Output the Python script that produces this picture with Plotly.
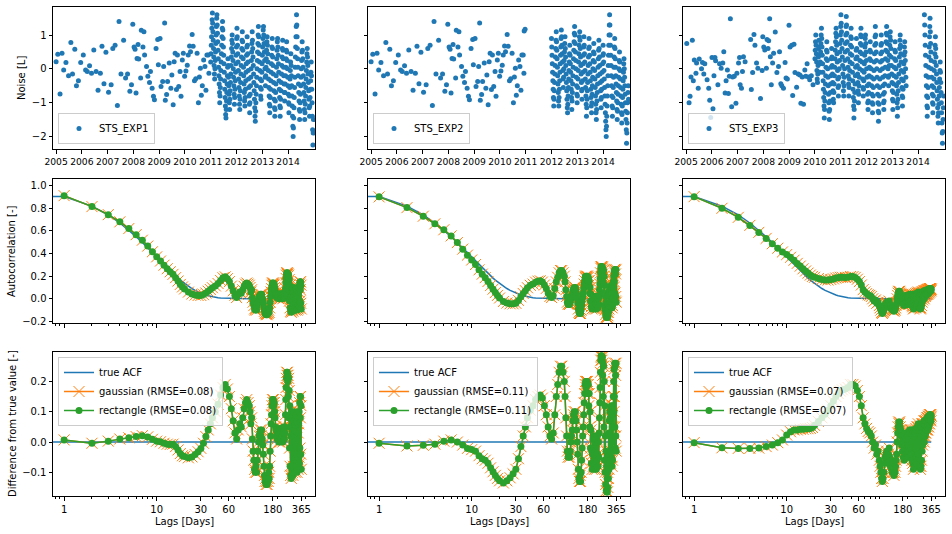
import pandas as pd
import plotly.graph_objects as go

# ------------------------------------------------------------------ data
# Top row: noise series.  Sparse observations (decimal year, value)
sparse_exp12 = [
    (2005.000, 0.21), (2005.064, 0.43), (2005.153, -0.74), (2005.229, 0.46), (2005.293, -0.03),
    (2005.382, 0.19), (2005.483, -0.20), (2005.573, 0.78), (2005.636, -0.15), (2005.725, 0.58),
    (2005.789, -0.50), (2005.865, -0.35), (2005.954, 0.19), (2006.056, 0.41), (2006.145, -0.03),
    (2006.209, -0.08), (2006.298, 0.09), (2006.374, -0.13), (2006.463, 0.56), (2006.552, -0.08),
    (2006.628, -0.63), (2006.718, -0.13), (2006.781, 0.67), (2006.858, -0.44), (2006.934, 0.49),
    (2007.036, -0.69), (2007.137, -0.47), (2007.201, 0.60), (2007.290, 0.70), (2007.379, -1.08),
    (2007.443, 1.40), (2007.519, -0.15), (2007.621, 0.85), (2007.697, -0.27), (2007.774, -0.15),
    (2007.863, -0.66), (2007.926, -0.47), (2007.977, 1.32), (2008.028, 0.65), (2008.066, 0.58),
    (2008.104, -0.71), (2008.142, 0.31), (2008.181, 0.72), (2008.206, 0.29), (2008.282, -0.27),
    (2008.308, 1.14), (2008.372, 0.65), (2008.410, 1.10), (2008.435, 0.41), (2008.511, 0.07),
    (2008.562, -0.22), (2008.626, -0.40), (2008.664, -0.08), (2008.728, -0.57), (2008.779, -0.81),
    (2008.817, -0.91), (2008.880, 0.60), (2008.944, 0.87), (2008.969, 0.12), (2009.033, 0.90),
    (2009.071, -0.52), (2009.135, -0.37), (2009.173, 0.07), (2009.211, 1.36), (2009.237, -0.93),
    (2009.288, -0.76), (2009.326, -0.37), (2009.389, 0.17), (2009.453, -0.57), (2009.491, -0.18),
    (2009.542, -1.06), (2009.580, 0.21), (2009.618, 0.46), (2009.669, -0.61), (2009.707, 0.41),
    (2009.758, -0.52), (2009.809, -0.08), (2009.847, -0.81), (2009.898, 0.26), (2009.936, 0.46),
    (2009.987, -0.22), (2010.038, -0.06), (2010.089, 0.11), (2010.127, 0.41), (2010.178, 0.68),
    (2010.216, 0.51), (2010.280, 1.02), (2010.318, 0.67), (2010.369, -0.35), (2010.420, -0.29),
    (2010.471, 0.46), (2010.522, -1.00), (2010.560, -0.24), (2010.598, 0.02), (2010.636, -0.78),
    (2010.674, -0.50), (2010.725, 0.26), (2010.776, 0.07), (2010.814, -0.63), (2010.852, 0.41),
    (2010.903, 0.41), (2010.929, -0.13),
]
extra_exp2 = [(2010.940, 1.12), (2010.975, 1.17)]

sparse_exp3 = [
    (2005.025, 0.75), (2005.115, -1.00), (2005.153, -0.81), (2005.191, -0.24), (2005.242, 0.85),
    (2005.280, -0.35), (2005.318, 0.26), (2005.382, -0.13), (2005.407, 0.17), (2005.471, -0.57),
    (2005.509, 0.29), (2005.598, 0.00), (2005.636, 0.19), (2005.687, -0.15), (2005.725, 0.15),
    (2005.814, -0.32), (2005.878, -0.57), (2005.916, -0.93), (2005.954, -1.44), (2006.005, 0.34),
    (2006.043, -1.18), (2006.081, -0.20), (2006.120, 0.34), (2006.145, 0.24), (2006.234, -0.47),
    (2006.298, 0.15), (2006.361, 0.02), (2006.425, 0.17), (2006.463, 0.51), (2006.514, -0.71),
    (2006.552, -0.35), (2006.603, -0.03), (2006.641, -0.73), (2006.679, -0.22), (2006.718, 1.48),
    (2006.768, -1.12), (2006.807, -0.24), (2006.870, -0.22), (2006.934, -1.02), (2006.972, -0.13),
    (2007.036, 0.17), (2007.074, 0.34), (2007.099, -0.47), (2007.150, -0.57), (2007.188, -0.08),
    (2007.226, 0.36), (2007.290, 0.21), (2007.506, 0.87), (2007.532, -0.61), (2007.583, -0.11),
    (2007.634, 1.02), (2007.672, 0.70), (2007.735, 0.17), (2007.786, 0.02), (2007.888, -0.88),
    (2007.952, -0.05), (2007.977, 0.95), (2008.015, 0.65), (2008.053, 0.56), (2008.117, 0.02),
    (2008.142, 0.87), (2008.181, 0.60), (2008.206, 0.83), (2008.244, 1.48), (2008.270, 0.36),
    (2008.308, -0.47), (2008.359, 0.17), (2008.397, 0.46), (2008.461, 1.09), (2008.524, -0.11),
    (2008.588, 0.07), (2008.626, 0.51), (2008.677, -0.44), (2008.715, -0.50), (2008.779, -0.57),
    (2008.842, 0.19), (2008.880, -0.27), (2008.931, -0.30), (2008.995, 1.29), (2009.033, 0.65),
    (2009.097, 0.70), (2009.135, -0.79), (2009.186, 0.73), (2009.224, -0.11), (2009.288, -0.54),
    (2009.351, -0.15), (2009.415, -0.18), (2009.453, -1.02), (2009.504, -0.24), (2009.555, -1.05),
    (2009.606, -0.03), (2009.644, -0.22), (2009.695, 0.15), (2009.746, -0.24), (2009.796, -0.32),
    (2009.860, -0.20), (2009.924, -0.47),
]

# Dense parts (one value every 4 days)
DENSE_STEP = "4D"
dense_exp1_start = "2011-01-01"
dense_exp1 = [
    0.2, 0.45, 0.7, 0.95, 1.2, 1.45, 1.65, 1.35, 1.1, 0.85, 0.6, 0.35, 0.1, -0.15, -0.3, 0.0, 0.25, 0.5, 0.75, 1.0, 1.25, 1.5,
    1.6, 1.3, 1.05, 0.8, 0.55, 0.3, 0.05, -0.2, -0.45, -0.7, -1.0, -0.8, -0.55, -0.3, -0.05, 0.2, 0.45, 0.7, 0.95, 1.2, 1.4, 1.15,
    0.9, 0.65, 0.4, 0.15, -0.1, -0.35, -0.6, -0.85, -1.1, -1.35, -1.45, -1.2, -0.95, -0.7, -0.45, -0.2, 0.05, 0.3, 0.1, -0.25, -0.5, -0.75,
    -1.0, -1.2, -0.9, -0.65, -0.4, -0.15, 0.1, 0.35, 0.6, 0.85, 1.0, 0.75, 0.5, 0.25, 0.0, -0.25, -0.5, -0.75, -1.05, -0.85, -0.6, -0.35,
    -0.1, 0.15, 0.4, 0.65, 0.9, 1.2, 0.95, 0.7, 0.45, 0.2, -0.05, -0.3, -0.55, -0.8, -1.05, -1.2, -0.9, -0.65, -0.4, -0.15, 0.1, 0.35,
    0.6, 0.85, 1.1, 0.8, 0.55, 0.3, 0.05, -0.2, -0.45, -0.7, -0.95, -1.1, -0.85, -0.6, -0.35, -0.1, 0.15, 0.4, 0.65, 0.95, 0.7, 0.45,
    0.2, -0.05, -0.3, -0.55, -0.8, -1.05, -1.3, -1.0, -0.75, -0.5, -0.25, 0.0, 0.25, 0.5, 0.75, 1.1, 0.85, 0.6, 0.35, 0.1, -0.15, -0.4,
    -0.65, -0.9, -1.15, -1.4, -1.55, -1.25, -1.0, -0.75, -0.5, -0.25, 0.0, 0.25, 0.5, 0.75, 1.0, 1.25, 0.95, 0.7, 0.45, 0.2, -0.05, -0.3,
    -0.55, -0.8, -0.9, -0.6, -0.35, -0.1, 0.15, 0.4, 0.65, 0.9, 1.15, 1.25, 1.0, 0.75, 0.5, 0.25, 0.0, -0.25, -0.5, -0.2, 0.05, 0.3,
    0.55, 0.8, 0.95, 0.7, 0.45, 0.2, -0.05, -0.3, -0.55, -0.8, -1.05, -1.3, -1.1, -0.85, -0.6, -0.35, -0.1, 0.15, 0.4, 0.65, 0.9, 0.6,
    0.35, 0.1, -0.15, -0.4, -0.65, -0.9, -1.15, -1.4, -1.2, -0.95, -0.7, -0.45, -0.2, 0.05, 0.3, 0.55, 0.8, 0.9, 0.65, 0.4, 0.15, -0.1,
    -0.35, -0.6, -0.85, -1.1, -1.4, -1.15, -0.9, -0.65, -0.4, -0.15, 0.1, 0.35, 0.6, 0.85, 0.55, 0.3, 0.05, -0.2, -0.45, -0.7, -0.95, -0.7,
    -0.45, -0.2, 0.05, 0.3, 0.55, 0.8, 0.5, 0.25, 0.0, -0.25, -0.5, -0.75, -1.0, -1.3, -1.05, -0.8, -0.55, -0.3, -0.05, 0.2, 0.45, 0.1,
    -0.2, -0.5, -0.8, -1.1, -1.4, -1.7, -2.0, -1.75, -1.45, -1.15, -0.85, -0.55, -0.25, 0.05, 0.35, 0.65, 0.95, 1.25, 1.6, 1.3, 0.95, 0.6,
    0.3, 0.05, -0.2, -0.45, -0.7, -0.95, -1.2, -1.5, -1.25, -1.0, -0.75, -0.5, -0.25, 0.0, 0.25, 0.5, 0.8, 0.55, 0.3, 0.05, -0.2, -0.45,
    -0.7, -0.95, -1.2, -1.5, -1.3, -1.05, -0.8, -0.55, -0.3, -0.05, 0.2, 0.45, 0.6, 0.35, 0.1, -0.15, -0.4, -0.65, -0.9, -1.15, -1.4, -1.1,
    -0.85, -0.6, -0.35, -0.1, 0.2, -0.2, -0.6, -1.0, -1.4, -1.8, -2.25, -1.9, -1.5,
]
dense_exp2_start = "2012-01-01"
dense_exp2 = [
    0.9, 0.65, 0.4, 0.15, -0.1, -0.35, -0.6, -0.85, -1.1, -0.9, -0.65, -0.4, -0.15, 0.1, 0.35, 0.6, 0.85, 1.1, 0.8, 0.55, 0.3, 0.05,
    -0.2, -0.45, -0.7, -0.95, -1.1, -0.85, -0.6, -0.35, -0.1, 0.15, 0.4, 0.65, 0.9, 1.15, 0.95, 0.7, 0.45, 0.2, -0.05, -0.3, -0.55, -0.25,
    0.0, 0.25, 0.5, 0.75, 0.95, 0.6, 0.35, 0.1, -0.15, -0.4, -0.65, -0.9, -1.15, -1.3, -1.05, -0.8, -0.55, -0.3, -0.05, 0.2, 0.45, 0.7,
    0.4, 0.15, -0.1, -0.35, -0.6, -0.85, -1.2, -0.95, -0.7, -0.45, -0.2, 0.05, 0.3, 0.55, 0.8, 1.05, 1.25, 1.0, 0.75, 0.5, 0.25, 0.0,
    -0.25, -0.5, -0.75, -1.0, -0.8, -0.55, -0.3, -0.05, 0.2, 0.45, 0.7, 0.95, 1.1, 0.85, 0.6, 0.35, 0.1, -0.15, -0.4, -0.65, -0.9, -0.6,
    -0.35, -0.1, 0.15, 0.4, 0.65, 0.95, 0.7, 0.45, 0.2, -0.05, -0.3, -0.55, -0.8, -1.05, -1.4, -1.15, -0.9, -0.65, -0.4, -0.15, 0.1, 0.35,
    0.6, 0.9, 0.65, 0.4, 0.15, -0.1, -0.35, -0.6, -0.85, -1.1, -1.3, -1.0, -0.75, -0.5, -0.25, 0.0, 0.25, 0.5, 0.75, 0.45, 0.2, -0.05,
    -0.3, -0.55, -0.8, -1.05, -1.3, -1.5, -1.2, -0.95, -0.7, -0.45, -0.2, 0.05, 0.3, 0.55, 0.85, 0.6, 0.35, 0.1, -0.15, -0.4, -0.65, -0.9,
    -1.15, -0.85, -0.6, -0.35, -0.1, 0.15, 0.4, 0.7, 0.45, 0.2, -0.05, -0.3, -0.55, -0.8, -1.05, -1.3, -1.55, -1.8, -2.0, -1.7, -1.4, -1.1,
    -0.8, -0.5, -0.2, 0.1, 0.4, 0.7, 1.0, 1.3, 1.6, 1.3, 1.0, 0.7, 0.4, 0.1, -0.2, -0.5, -0.8, -1.1, -1.4, -1.15, -0.85, -0.55,
    -0.25, 0.05, 0.35, 0.65, 0.9, 0.6, 0.3, 0.05, -0.2, -0.45, -0.7, -0.95, -1.2, -1.5, -1.25, -1.0, -0.75, -0.5, -0.25, 0.0, 0.25, 0.5,
    0.2, -0.05, -0.3, -0.55, -0.8, -1.05, -1.3, -1.6, -1.35, -1.1, -0.85, -0.6, -0.35, -0.1, 0.15, 0.3, 0.0, -0.25, -0.5, -0.75, -1.0, -1.25,
    -1.5, -1.8, -2.2, -1.9, -1.6, -1.3, -1.0, -0.7, -0.5, -0.9,
]
dense_exp3a_start = "2010-01-01"
dense_exp3a = [
    0.3, 0.55, 0.8, 1.0, 0.7, 0.45, 0.2, -0.05, -0.3, -0.4, -0.15, 0.1, 0.35, 0.6, 0.85, 0.65, 0.4, 0.15, -0.1, 0.2, 0.5, 0.75,
    1.0, 1.2, 0.9, 0.65, 0.4, 0.15, -0.1, -0.35, -0.6, -0.85, -1.1, -1.45, -1.2, -0.95, -0.7, -0.45, -0.2, 0.05, 0.3, 0.55, 0.8, 0.5,
    0.25, 0.0, -0.25, -0.5, -0.75, -1.0, -1.25, -1.5, -1.2, -0.95, -0.7, -0.45, -0.2, 0.05, 0.3, 0.6, 0.35, 0.1, -0.15, -0.4, -0.65, -0.9,
    -1.0, -0.7, -0.45, -0.2, 0.05, 0.3, 0.55, 0.8, 1.05, 1.2, 0.95, 0.7, 0.45, 0.2, -0.05, -0.3, -0.55, -0.8, -0.5, -0.25, 0.0, 0.25,
    0.5, 0.75, 1.0, 1.25, 1.6, 1.35, 1.1, 0.85, 0.6, 0.35, 0.1, -0.15, -0.4, -0.65, -0.8, -0.5, -0.25, 0.0, 0.25, 0.5, 0.75, 1.0,
    1.25, 1.55, 1.3, 1.05, 0.8, 0.55, 0.3, 0.05, -0.2, -0.45, -0.8, -0.55, -0.3, -0.05, 0.2, 0.45, 0.7, 0.95, 1.2, 0.9, 0.65, 0.4,
    0.15, -0.1, -0.35, -0.6, -0.85, -1.1, -1.45, -1.2, -0.95, -0.7, -0.45, -0.2, 0.05, 0.3, 0.55, 0.9, 0.6, 0.35, 0.1, -0.15, -0.4, -0.65,
    -1.0, -0.75, -0.5, -0.25, 0.0, 0.25, 0.5, 0.75, 1.0, 1.2, 0.95, 0.7, 0.45, 0.2, -0.05, -0.3, -0.55, -0.8, -0.6, -0.35, -0.1, 0.15,
    0.4, 0.65, 0.9, 1.0, 0.75, 0.5, 0.25, 0.0, -0.25, -0.5, -0.75, -1.0, -1.2, -0.95, -0.7, -0.45, -0.2, 0.05, 0.3, 0.55, 0.8, 0.5,
    0.25, 0.0, -0.25, -0.5, -0.75, -1.0, -1.3, -1.05, -0.8, -0.55, -0.3, -0.05, 0.2, 0.45, 0.7, 0.95, 1.25, 1.0, 0.75, 0.5, 0.25, 0.0,
    -0.25, -0.5, -0.75, -1.0, -1.25, -1.55, -1.3, -1.05, -0.8, -0.55, -0.3, -0.05, 0.2, 0.45, 0.7, 1.0, 0.75, 0.5, 0.25, 0.0, -0.25, -0.5,
    -0.75, -1.0, -1.2, -0.95, -0.7, -0.45, -0.2, 0.05, 0.3, 0.55, 0.8, 1.05, 1.25, 1.0, 0.75, 0.5, 0.25, 0.0, -0.25, -0.5, -0.2, 0.1,
    0.4, 0.7, 0.95, 1.1, 0.85, 0.6, 0.35, 0.1, -0.15, -0.4, -0.65, -0.9, -1.2, -0.95, -0.7, -0.45, -0.2, 0.05, 0.3, 0.55, 0.8, 0.5,
    0.25, 0.0, -0.25, -0.5, -0.75, -1.0, -1.4, -1.15, -0.9, -0.65, -0.4, -0.15, 0.1, 0.35, 0.6, 0.85, 1.0, 0.7, 0.45, 0.2, -0.05, -0.3,
    -0.55, -0.8, -1.1, -0.85, -0.6, -0.35, -0.1, 0.15, 0.4, 0.65, 0.8, 0.5, 0.25, 0.0, -0.25, -0.5,
]
dense_exp3b_start = "2014-04-01"
dense_exp3b = [
    1.6, 1.3, 1.0, 0.7, 0.4, 0.1, -0.2, -0.5, -0.8, -1.1, -1.4, -1.15, -0.85, -0.55, -0.25, 0.05, 0.35, 0.65, 0.95, 1.25, 1.5, 1.1,
    0.75, 0.5, 0.25, 0.0, -0.25, -0.5, -0.75, -1.0, -1.3, -1.05, -0.8, -0.55, -0.3, -0.05, 0.2, 0.45, 0.7, 0.95, 0.6, 0.35, 0.1, -0.15,
    -0.4, -0.65, -0.9, -1.15, -1.4, -1.6, -1.3, -1.05, -0.8, -0.55, -0.3, -0.05, 0.2, -0.1, -0.4, -0.7, -1.0, -1.3, -1.6, -1.9, -2.2, -1.85,
    -1.5, -1.15, -0.8,
]
series_names = ["STS_EXP1", "STS_EXP2", "STS_EXP3"]

# Middle / bottom rows: lags, true ACF and (estimated - true) differences
lags = ([1, 2, 3, 4, 5, 6, 7, 8, 9, 10, 11, 12, 13, 14, 15, 16, 17, 18, 19, 20,
         22, 24, 26, 28, 30, 32, 34, 36, 38, 40,
         43, 46, 49, 52, 55, 58, 61, 64, 67, 70, 73, 76, 79, 82, 85, 88, 91, 94, 97]
        + list(range(100, 366, 2)))
true_acf_lag0 = 1.0
true_acf = [
    0.905, 0.819, 0.741, 0.670, 0.607, 0.549, 0.497, 0.449, 0.407, 0.368,
    0.333, 0.301, 0.273, 0.247, 0.223, 0.202, 0.183, 0.165, 0.150, 0.135,
    0.111, 0.091, 0.074, 0.061, 0.050, 0.041, 0.033, 0.027, 0.022, 0.018,
    0.014, 0.010, 0.007, 0.006, 0.004, 0.003, 0.002, 0.002, 0.001, 0.001,
    0.001, 0.0, 0.0, 0.0, 0.0, 0.0, 0.0, 0.0, 0.0,
    0.0, 0.0, 0.0, 0.0, 0.0, 0.0, 0.0, 0.0, 0.0, 0.0, 0.0, 0.0, 0.0, 0.0, 0.0, 0.0, 0.0, 0.0, 0.0, 0.0,
    0.0, 0.0, 0.0, 0.0, 0.0, 0.0, 0.0, 0.0, 0.0, 0.0, 0.0, 0.0, 0.0, 0.0, 0.0, 0.0, 0.0, 0.0, 0.0, 0.0,
    0.0, 0.0, 0.0, 0.0, 0.0, 0.0, 0.0, 0.0, 0.0, 0.0, 0.0, 0.0, 0.0, 0.0, 0.0, 0.0, 0.0, 0.0, 0.0, 0.0,
    0.0, 0.0, 0.0, 0.0, 0.0, 0.0, 0.0, 0.0, 0.0, 0.0, 0.0, 0.0, 0.0, 0.0, 0.0, 0.0, 0.0, 0.0, 0.0, 0.0,
    0.0, 0.0, 0.0, 0.0, 0.0, 0.0, 0.0, 0.0, 0.0, 0.0, 0.0, 0.0, 0.0, 0.0, 0.0, 0.0, 0.0, 0.0, 0.0, 0.0,
    0.0, 0.0, 0.0, 0.0, 0.0, 0.0, 0.0, 0.0, 0.0, 0.0, 0.0, 0.0, 0.0, 0.0, 0.0, 0.0, 0.0, 0.0, 0.0, 0.0,
    0.0, 0.0, 0.0, 0.0, 0.0, 0.0, 0.0, 0.0, 0.0, 0.0, 0.0, 0.0, 0.0,
]
diff_exp1 = [
    0.007, -0.004, 0.003, 0.010, 0.014, 0.018, 0.021, 0.017, 0.009, 0.003,
    0.001, -0.004, -0.007, -0.008, -0.007, -0.015, -0.026, -0.038, -0.045, -0.048,
    -0.052, -0.049, -0.041, -0.032, -0.021, -0.004, 0.018, 0.040, 0.060, 0.080,
    0.100, 0.125, 0.155, 0.180, 0.190, 0.175, 0.150, 0.110, 0.070, 0.030,
    0.010, 0.040, 0.060, 0.050, 0.080, 0.110, 0.130, 0.140, 0.130,
    0.12, 0.10, 0.06, 0.08, 0.01, -0.03, -0.06, -0.09, -0.10, -0.08,
    -0.10, -0.06, -0.03, 0.00, 0.02, 0.03, 0.04, 0.02, 0.04, 0.01,
    -0.01, -0.04, -0.08, -0.11, -0.13, -0.12, -0.14, -0.13, -0.14, -0.12,
    -0.13, -0.10, -0.12, -0.08, -0.03, 0.02, 0.06, 0.09, 0.12, 0.14,
    0.13, 0.14, 0.12, 0.13, 0.10, 0.08, 0.05, 0.04, 0.02, 0.04,
    0.01, 0.03, 0.04, 0.02, 0.00, 0.03, 0.045, 0.02, 0.00, 0.03,
    0.04, 0.01, 0.03, 0.045, 0.02, 0.00, 0.03, 0.05, 0.02, 0.04,
    0.01, 0.03, 0.05, 0.09, 0.14, 0.18, 0.21, 0.23, 0.22, 0.23,
    0.20, 0.22, 0.15, 0.21, 0.08, 0.17, -0.02, 0.12, -0.08, 0.05,
    -0.11, 0.02, -0.12, 0.10, -0.09, 0.08, -0.10, 0.06, -0.11, 0.09,
    -0.08, 0.10, -0.05, 0.07, -0.09, 0.04, -0.10, 0.06, -0.07, 0.08,
    -0.04, 0.09, -0.08, 0.05, -0.10, 0.07, -0.06, 0.10, -0.09, 0.03,
    -0.08, 0.06, -0.05, 0.10, -0.07, 0.13, -0.02, 0.15, 0.08, 0.15,
    -0.04, 0.12, -0.09,
]
diff_exp2 = [
    -0.004, -0.013, -0.011, -0.007, 0.003, 0.007, 0.000, -0.010, -0.021, -0.025,
    -0.030, -0.045, -0.055, -0.060, -0.070, -0.085, -0.098, -0.110, -0.120, -0.128,
    -0.135, -0.128, -0.118, -0.105, -0.090, -0.055, -0.015, 0.020, 0.050, 0.080,
    0.105, 0.120, 0.140, 0.150, 0.155, 0.145, 0.120, 0.090, 0.050, 0.020,
    0.010, 0.030, 0.090, 0.150, 0.190, 0.230, 0.250, 0.250, 0.230,
    0.20, 0.15, 0.08, 0.02, -0.03, -0.05, -0.04, -0.05, -0.03, 0.00,
    0.02, 0.04, 0.07, 0.09, 0.10, 0.08, 0.10, 0.07, 0.04, 0.00,
    -0.04, -0.09, -0.12, -0.13, -0.11, -0.13, -0.10, -0.06, -0.02, 0.02,
    0.05, 0.09, 0.13, 0.16, 0.19, 0.20, 0.18, 0.20, 0.19, 0.20,
    0.16, 0.19, 0.12, 0.16, 0.05, 0.10, -0.02, 0.04, -0.07, -0.03,
    -0.09, -0.04, 0.01, -0.08, 0.02, -0.06, -0.09, 0.00, -0.07, 0.02,
    -0.05, -0.09, 0.01, -0.06, 0.02, -0.04, -0.08, 0.00, -0.05, 0.03,
    0.08, 0.13, 0.18, 0.23, 0.27, 0.285, 0.28, 0.285, 0.27, 0.28,
    0.22, 0.26, 0.15, 0.25, 0.05, 0.20, -0.06, 0.12, -0.10, 0.02,
    -0.14, -0.03, -0.16, -0.08, -0.165, -0.12, -0.165, -0.10, -0.15, -0.05,
    -0.12, 0.03, -0.09, 0.07, -0.06, 0.10, -0.04, 0.08, -0.07, 0.11,
    -0.03, 0.12, -0.05, 0.09, -0.08, 0.05, -0.06, 0.12, 0.00, 0.15,
    0.05, 0.20, 0.10, 0.24, 0.15, 0.26, 0.05, 0.25, -0.02, 0.22,
    0.02, 0.26, -0.03,
]
diff_exp3 = [
    -0.002, -0.019, -0.021, -0.021, -0.020, -0.015, -0.010, -0.002, 0.007, 0.023,
    0.034, 0.040, 0.040, 0.042, 0.042, 0.044, 0.044, 0.045, 0.048, 0.055,
    0.068, 0.080, 0.092, 0.105, 0.120, 0.135, 0.150, 0.160, 0.168, 0.172,
    0.175, 0.180, 0.190, 0.190, 0.185, 0.170, 0.150, 0.120, 0.080, 0.060,
    0.045, 0.035, 0.030, 0.020, 0.000, -0.020, -0.010, -0.040, -0.030,
    -0.06, -0.08, -0.10, -0.12, -0.13, -0.12, -0.10, -0.07, -0.05, -0.04,
    -0.03, -0.05, -0.07, -0.04, -0.02, -0.05, -0.08, -0.06, -0.09, -0.10,
    -0.08, -0.10, -0.11, -0.09, -0.10, -0.08, -0.06, -0.04, 0.00, 0.03,
    0.05, 0.066, 0.06, 0.066, 0.05, 0.04, 0.02, -0.01, 0.02, -0.03,
    0.00, -0.05, 0.01, -0.06, 0.02, -0.04, 0.03, -0.05, 0.01, -0.03,
    0.03, -0.04, 0.02, -0.05, 0.03, -0.03, 0.04, -0.05, 0.03, -0.02,
    0.04, -0.04, 0.03, -0.06, 0.04, -0.07, 0.03, -0.09, 0.02, -0.08,
    0.04, -0.06, 0.03, -0.08, 0.045, -0.05, 0.04, -0.07, 0.05, -0.06,
    0.05, -0.04, 0.06, -0.05, 0.04, -0.07, 0.05, -0.08, 0.04, -0.09,
    0.05, -0.08, 0.05, -0.06, 0.06, -0.03, 0.05, -0.01, 0.06, 0.01,
    0.06, 0.02, 0.07, 0.00, 0.06, 0.03, 0.07, 0.02, 0.07, 0.03,
    0.07, 0.04, 0.075, 0.04, 0.08, 0.05, 0.08, 0.04, 0.08, 0.06,
    0.085, 0.05, 0.085, 0.07, 0.09, 0.06, 0.09, 0.075, 0.09, 0.08,
    0.09, 0.07, 0.085,
]
rmse_gaussian = [0.08, 0.11, 0.07]
rmse_rectangle = [0.08, 0.11, 0.07]

lag_ticks = [1, 10, 30, 60, 180, 365]
year_ticks = list(range(2005, 2015))

# ------------------------------------------------------------------ helpers
BLUE, ORANGE, GREEN = "#1f77b4", "#ff7f0e", "#2ca02c"
W, H = 952, 534
COLS = [(53, 315), (368, 630), (683, 945)]
ROWS = [(7, 149), (179, 323), (352, 496)]
FONT = dict(family="DejaVu Sans", size=10, color="black")
DATE_FONT = dict(family="DejaVu Sans", size=9.2, color="black")


def dec_year(y):
    yr = int(y)
    return pd.Timestamp(yr, 1, 1) + pd.Timedelta(days=(y - yr) * 365.25)


def dense(start, vals):
    return list(pd.date_range(start, periods=len(vals), freq=DENSE_STEP)), list(vals)


def sparse(pairs):
    return [dec_year(p[0]) for p in pairs], [p[1] for p in pairs]


def ax(i):
    return "" if i == 1 else str(i)


top_series = []
x1s, y1s = sparse(sparse_exp12)
x1d, y1d = dense(dense_exp1_start, dense_exp1)
top_series.append((x1s + x1d, y1s + y1d))
x2e, y2e = sparse(extra_exp2)
x2d, y2d = dense(dense_exp2_start, dense_exp2)
top_series.append((x1s + x2e + x2d, y1s + y2e + y2d))
x3s, y3s = sparse(sparse_exp3)
x3a, y3a = dense(dense_exp3a_start, dense_exp3a)
x3b, y3b = dense(dense_exp3b_start, dense_exp3b)
top_series.append((x3s + x3a + x3b, y3s + y3a + y3b))

diffs = [diff_exp1, diff_exp2, diff_exp3]
CLIP_LAG0 = 1e-30  # a log axis cannot show lag 0: clip it far left, as matplotlib does
true_x = [CLIP_LAG0] + lags
true_y = [true_acf_lag0] + true_acf
true_zero = [v - v for v in true_y]

X_MARK = dict(symbol="x-thin", size=11, line=dict(color=ORANGE, width=1))
O_MARK = dict(symbol="circle", size=7, color=GREEN)

fig = go.Figure()
for c in range(3):
    i = c + 1
    xs, ys = top_series[c]
    fig.add_trace(go.Scatter(
        x=xs, y=ys, mode="markers", name=series_names[c],
        marker=dict(size=5, color=BLUE), xaxis="x" + ax(i), yaxis="y" + ax(i),
        legend="legend" + ax(c + 1), showlegend=True))
    i = 3 + c + 1
    acf = [t + d for t, d in zip(true_acf, diffs[c])]
    fig.add_trace(go.Scatter(x=true_x, y=true_y, mode="lines", line=dict(color=BLUE, width=1.5),
                             xaxis="x" + ax(i), yaxis="y" + ax(i), showlegend=False))
    fig.add_trace(go.Scatter(x=lags, y=acf, mode="lines+markers", line=dict(color=ORANGE, width=1.5),
                             marker=X_MARK, xaxis="x" + ax(i), yaxis="y" + ax(i), showlegend=False))
    fig.add_trace(go.Scatter(x=lags, y=acf, mode="lines+markers", line=dict(color=GREEN, width=1.5),
                             marker=O_MARK, xaxis="x" + ax(i), yaxis="y" + ax(i), showlegend=False))
    i = 6 + c + 1
    lg = "legend" + str(c + 4)
    fig.add_trace(go.Scatter(x=true_x, y=true_zero, mode="lines", name="true ACF",
                             line=dict(color=BLUE, width=1.5),
                             xaxis="x" + ax(i), yaxis="y" + ax(i), legend=lg))
    fig.add_trace(go.Scatter(x=lags, y=diffs[c], mode="lines+markers",
                             name=f"gaussian (RMSE={rmse_gaussian[c]:.2f})",
                             line=dict(color=ORANGE, width=1.5), marker=X_MARK,
                             xaxis="x" + ax(i), yaxis="y" + ax(i), legend=lg))
    fig.add_trace(go.Scatter(x=lags, y=diffs[c], mode="lines+markers",
                             name=f"rectangle (RMSE={rmse_rectangle[c]:.2f})",
                             line=dict(color=GREEN, width=1.5), marker=O_MARK,
                             xaxis="x" + ax(i), yaxis="y" + ax(i), legend=lg))

base_axis = dict(showline=True, linecolor="black", linewidth=1, mirror=True,
                 ticks="outside", ticklen=3.5, tickwidth=0.8, tickcolor="black",
                 showgrid=False, zeroline=False, tickfont=FONT, tickangle=0, automargin=False)
layout = dict(width=W, height=H, margin=dict(l=0, r=0, t=0, b=0, autoexpand=False),
              paper_bgcolor="white", plot_bgcolor="white", font=FONT)
minor_log = dict(ticks="outside", ticklen=2, tickwidth=0.6, tickcolor="black",
                 tickvals=[0.8, 0.9, 2, 3, 4, 5, 6, 7, 8, 9, 20, 40, 50, 70, 80, 90, 100, 200, 300, 400])
yranges = [[-2.37, 1.83], [-0.214, 1.059], [-0.178, 0.297]]
yticks = [[-2, -1, 0, 1], [-0.2, 0.0, 0.2, 0.4, 0.6, 0.8, 1.0], [-0.1, 0.0, 0.1, 0.2]]
ytitles = ["Noise [L]", "Autocorrelation [-]", "Difference from true value [-]"]
ytitle_x = [21, 12, 12]
annotations = []
for r in range(3):
    for c in range(3):
        i = r * 3 + c + 1
        x0, x1 = COLS[c]
        y0, y1 = ROWS[r]
        xa = dict(base_axis, domain=[x0 / W, x1 / W], anchor="y" + ax(i))
        ya = dict(base_axis, domain=[1 - y1 / H, 1 - y0 / H], anchor="x" + ax(i),
                  range=yranges[r], tickvals=yticks[r], showticklabels=(c == 0))
        if r > 0:
            ya["tickformat"] = ".1f"
        if r == 0:
            xa.update(type="date", range=["2004-11-18", "2015-01-18"],
                      tickvals=[f"{y}-01-01" for y in year_ticks],
                      ticktext=[str(y) for y in year_ticks], tickfont=DATE_FONT)
        else:
            xa.update(type="log", range=[-0.12, 2.71], tickvals=lag_ticks,
                      ticktext=[str(t) for t in lag_ticks], minor=minor_log,
                      showticklabels=(r == 2))
            if r == 2:
                annotations.append(dict(text="Lags [Days]", xref="paper", yref="paper",
                                        x=(x0 + x1) / 2 / W, y=1 - (y1 + 25) / H,
                                        showarrow=False, font=FONT,
                                        xanchor="center", yanchor="middle"))
        if c == 0:
            annotations.append(dict(text=ytitles[r], xref="paper", yref="paper",
                                    x=ytitle_x[r] / W, y=1 - (y0 + y1) / 2 / H, textangle=-90,
                                    showarrow=False, font=FONT,
                                    xanchor="center", yanchor="middle"))
        layout["xaxis" + ax(i)] = xa
        layout["yaxis" + ax(i)] = ya
layout["annotations"] = annotations

legend_style = dict(bgcolor="rgba(255,255,255,0.8)", bordercolor="#cccccc", borderwidth=1,
                    font=FONT, xanchor="left", xref="paper", yref="paper",
                    itemwidth=30, tracegroupgap=0)
for c in range(3):
    x0 = COLS[c][0]
    layout["legend" + ax(c + 1)] = dict(legend_style, x=(x0 + 5) / W, y=1 - (ROWS[0][1] - 5) / H,
                                        yanchor="bottom")
    layout["legend" + str(c + 4)] = dict(legend_style, x=(x0 + 5) / W, y=1 - (ROWS[2][0] + 5) / H,
                                         yanchor="top")
fig.update_layout(**layout)
fig.write_html("out.html")
